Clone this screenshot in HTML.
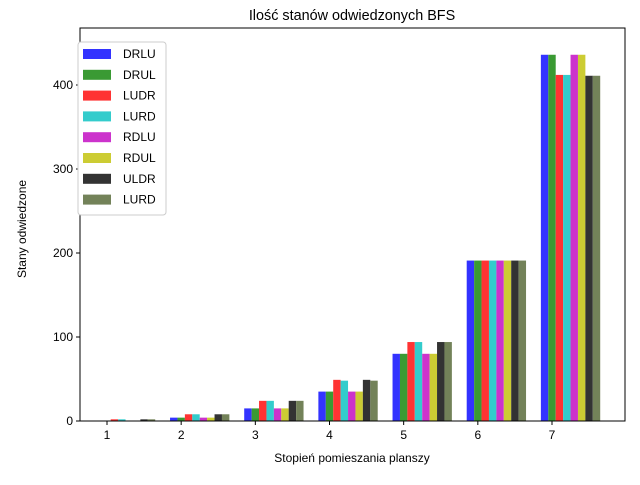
<!DOCTYPE html>
<html><head><meta charset="utf-8"><style>
body{margin:0;background:#fff;font-family:"Liberation Sans","DejaVu Sans",sans-serif}
</style></head><body>
<svg id="c" width="640" height="480" xmlns="http://www.w3.org/2000/svg"></svg>
<script>
const categories=[1,2,3,4,5,6,7];
const seriesNames=["DRLU","DRUL","LUDR","LURD","RDLU","RDUL","ULDR","LURD"];
const s0=[0,4,15,35,80,191,436];
const s1=[0,4,15,35,80,191,436];
const s2=[2,8,24,49,94,191,412];
const s3=[2,8,24,48,94,191,412];
const s4=[0,4,15,35,80,191,436];
const s5=[0,4,15,35,80,191,436];
const s6=[2,8,24,49,94,191,411];
const s7=[2,8,24,48,94,191,411];
const yTicks=[0,100,200,300,400];
const series=[s0,s1,s2,s3,s4,s5,s6,s7];
const colors=["#3333ff","#3a9a33","#ff3333","#33cccc","#cc33cc","#cccc33","#333333","#738259"];
const NS="http://www.w3.org/2000/svg";
const svg=document.getElementById('c');
const L=80,R=625,T=28,B=421;
const xs=v=>107+(v-1)*(552-107)/6;
const ys=v=>421-v*0.84;
function mk(t,a,p){const e=document.createElementNS(NS,t);for(const k in a)e.setAttribute(k,a[k]);(p||svg).appendChild(e);return e;}
const bw=0.1*(552-107)/6;
series.forEach((s,i)=>{s.forEach((v,j)=>{
 const r=mk('rect',{x:xs(categories[j])-0.15*(552-107)/6+i*bw,y:ys(v),width:bw,height:ys(0)-ys(v),fill:colors[i]});
 
 
});});
const fr=mk('rect',{x:L,y:T,width:R-L,height:B-T,fill:'none',stroke:'#000','stroke-width':1});

categories.forEach(c=>{
 mk('line',{x1:xs(c),x2:xs(c),y1:B,y2:B+4,stroke:'#000'});
 const t=mk('text',{x:xs(c),y:B+18,'text-anchor':'middle','font-size':12});t.textContent=c;
 
});
yTicks.forEach(v=>{
 mk('line',{x1:L-4,x2:L,y1:ys(v),y2:ys(v),stroke:'#000'});
 const t=mk('text',{x:L-7,y:ys(v)+4,'text-anchor':'end','font-size':12});t.textContent=v;
 
});
let t=mk('text',{x:352,y:28-8,'text-anchor':'middle','font-size':14.4});t.textContent='Ilość stanów odwiedzonych BFS';

t=mk('text',{x:352,y:462,'text-anchor':'middle','font-size':12});t.textContent='Stopień pomieszania planszy';

t=mk('text',{x:26,y:229,'text-anchor':'middle','font-size':12,transform:'rotate(-90 26 229)'});t.textContent='Stany odwiedzone';

const lg=mk('g',{});
mk('rect',{x:78,y:42,width:88,height:173,rx:3,fill:'#fff',stroke:'#ccc'},lg);
seriesNames.forEach((n,i)=>{
 const y=53+i*20.8;
 mk('rect',{x:83,y:y-4,width:28,height:10,fill:colors[i]},lg);
 const tt=mk('text',{x:123,y:y+5,'font-size':12},lg);tt.textContent=n;
 
});
</script>
</body></html>
